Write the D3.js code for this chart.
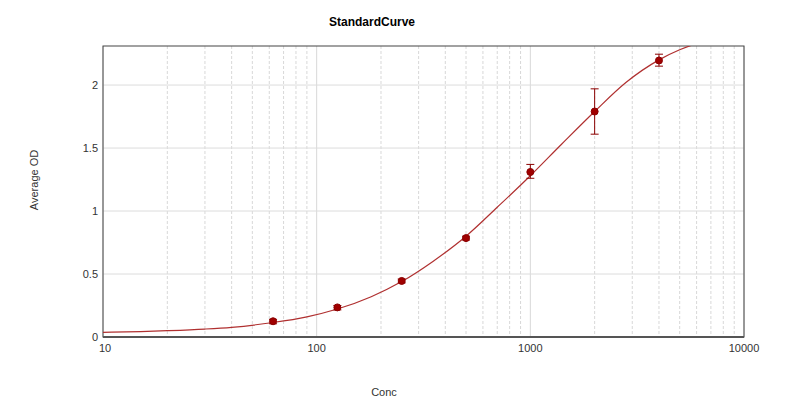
<!DOCTYPE html><html><head><meta charset="utf-8"><script src="https://cdn.jsdelivr.net/npm/d3@7"></script>
<style>body{margin:0;background:#fff}text{font-family:"Liberation Sans",Arial,sans-serif}</style></head><body><svg id="c" width="798" height="412"></svg>
<script>
const conc=[62.5,125,250,500,1000,2000,4000];
const od=[0.125,0.235,0.445,0.785,1.31,1.79,2.195];
const errLo=[0.105,0.215,0.43,0.77,1.26,1.61,2.15];
const errHi=[0.14,0.25,0.46,0.80,1.37,1.97,2.245];
const curveX=[10,15,20,30,40,62.5,90,125,180,250,350,500,700,1000,1400,2000,2800,4000,5000,6000];
const curveY=[0.037,0.043,0.05,0.063,0.077,0.115,0.16,0.222,0.32,0.44,0.6,0.80,1.03,1.28,1.53,1.79,2.02,2.2,2.28,2.33];
const xTicks=[10,100,1000,10000];
const yTicks=[0,0.5,1,1.5,2];
const svg=d3.select("#c");
const L=103,R=744,T=46,B=337;
const x=d3.scaleLog().domain([10,10000]).range([L,R]);
const y=d3.scaleLinear().domain([0,2.31]).range([B,T]);
const minor=[];for(let d=10;d<10000;d*=10)for(let k=1;k<10;k++)minor.push(d*k);minor.push(10000);
svg.append("g").selectAll("line").data(minor).join("line").attr("x1",d=>x(d)).attr("x2",d=>x(d)).attr("y1",T).attr("y2",B)
 .attr("stroke","#d8d8d8").attr("stroke-dasharray",d=>xTicks.includes(d)?null:"3,2");
svg.append("g").selectAll("line").data(yTicks).join("line").attr("x1",L).attr("x2",R).attr("y1",d=>y(d)).attr("y2",d=>y(d)).attr("stroke","#dcdcdc");
svg.append("rect").attr("x",L).attr("y",T).attr("width",R-L).attr("height",B-T).attr("fill","none").attr("stroke","#444").attr("stroke-width",1);
svg.append("line").attr("x1",L).attr("x2",R).attr("y1",B).attr("y2",B).attr("stroke","#555").attr("stroke-width",2);
svg.append("g").selectAll("text").data(yTicks).join("text").attr("x",L-5).attr("y",d=>y(d)+4).attr("text-anchor","end").attr("font-size",11).attr("fill","#333").text(d=>d);
svg.append("g").selectAll("text").data(xTicks).join("text").attr("x",d=>x(d)+(d===10?2:0)).attr("y",B+15).attr("text-anchor","middle").attr("font-size",11).attr("fill","#333").text(d=>d);
const clip=svg.append("clipPath").attr("id","cp").append("rect").attr("x",L).attr("y",T).attr("width",R-L).attr("height",B-T);
svg.append("path").attr("clip-path","url(#cp)").datum(curveX.map((c,i)=>[c,curveY[i]])).attr("fill","none").attr("stroke","#b03030").attr("stroke-width",1.2)
 .attr("d",d3.line().x(d=>x(d[0])).y(d=>y(d[1])).curve(d3.curveMonotoneX));
const g=svg.append("g").attr("stroke","#8b0000").attr("fill","#a00000");
conc.forEach((c,i)=>{const cx=x(c);
 g.append("line").attr("x1",cx).attr("x2",cx).attr("y1",y(errLo[i])).attr("y2",y(errHi[i]));
 [errLo[i],errHi[i]].forEach(v=>g.append("line").attr("x1",cx-4).attr("x2",cx+4).attr("y1",y(v)).attr("y2",y(v)));
 g.append("circle").attr("cx",cx).attr("cy",y(od[i])).attr("r",3.5);});
svg.append("text").attr("x",372).attr("y",26).attr("text-anchor","middle").attr("font-size",12).attr("font-weight","bold").text("StandardCurve");
svg.append("text").attr("x",384).attr("y",396).attr("text-anchor","middle").attr("font-size",11).attr("fill","#333").text("Conc");
svg.append("text").attr("transform","translate(38,180) rotate(-90)").attr("text-anchor","middle").attr("font-size",11).attr("fill","#333").text("Average OD");
</script></body></html>
